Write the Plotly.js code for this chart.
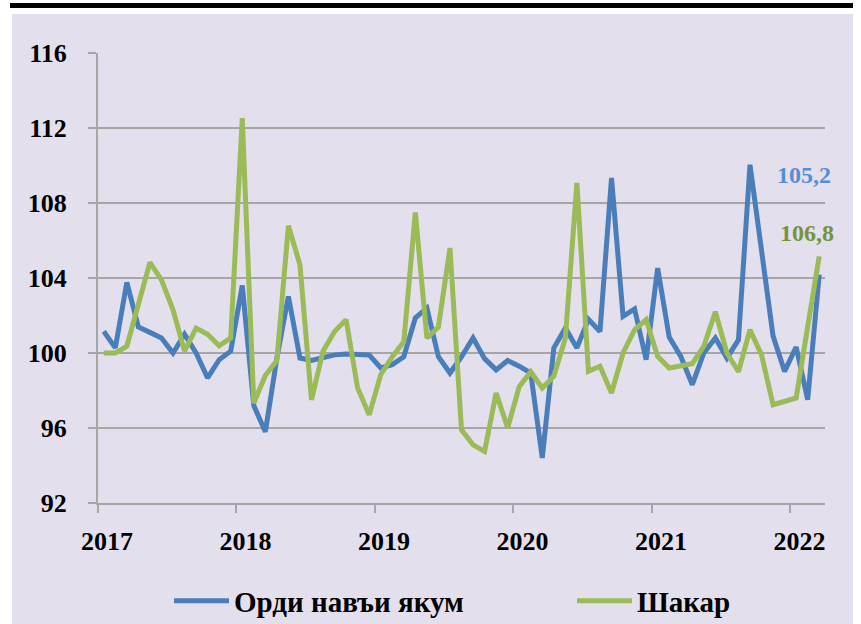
<!DOCTYPE html>
<html>
<head>
<meta charset="utf-8">
<script src="https://cdn.plot.ly/plotly-3.0.1.min.js"></script>
<style>html,body{margin:0;padding:0;background:#fff;}#chart{width:861px;height:624px;}</style>
</head>
<body>
<div id="chart"></div>
<script>
// Monthly, Jan 2017 – Mar 2022
var seriesNames = ["Орди навъи якум", "Шакар"];
var yearLabels = ["2017", "2018", "2019", "2020", "2021", "2022"];
var flour = [
  101.15, 100.27, 103.77, 101.39, 101.1, 100.8, 100.0, 101.0, 100.0, 98.67, 99.64, 100.1,
  103.6, 97.2, 95.8, 99.73, 103.02, 99.73, 99.6, 99.73, 99.9, 99.95, 99.95, 99.9,
  99.2, 99.38, 99.8, 101.87, 102.4, 99.8, 98.93, 99.8, 100.8, 99.7, 99.1, 99.6,
  99.3, 98.93, 94.4, 100.27, 101.33, 100.27, 101.8, 101.15, 109.33, 101.95, 102.35, 99.64,
  104.53, 100.85, 99.82, 98.31, 100.0, 100.8, 99.73, 100.7, 110.04, 105.47, 100.9, 99.02,
  100.32, 97.51, 104.18
];
var sugar = [
  100.0, 100.0, 100.36, 102.67, 104.83, 103.9, 102.3, 100.1, 101.33, 101.0, 100.39, 100.8,
  112.53, 97.33, 98.8, 99.6, 106.79, 104.71, 97.5, 100.1, 101.15, 101.78, 98.13, 96.7,
  98.84, 99.8, 100.6, 107.5, 100.8, 101.39, 105.6, 95.9, 95.1, 94.75, 97.87, 96.0,
  98.2, 99.0, 98.13, 98.76, 100.8, 109.07, 99.02, 99.29, 97.87, 100.0, 101.24, 101.78,
  99.82, 99.2, 99.32, 99.43, 100.36, 102.2, 100.0, 99.0, 101.24, 99.9, 97.24, 97.42,
  97.6, 101.4, 105.15
];
var endLabels = ["105,2", "106,8"];

var xs = flour.map(function (v, i) { return i + 0.5; });
var yearTicks = yearLabels.map(function (y, k) { return k * 12; });

var serif = "Liberation Serif, Times New Roman, serif";
var blue = "#4A7EBB", green = "#9BBB59";

var traces = [
  {x: xs, y: flour, type: "scatter", mode: "lines", name: seriesNames[0],
   line: {color: blue, width: 5}, legend: "legend"},
  {x: xs, y: sugar, type: "scatter", mode: "lines", name: seriesNames[1],
   line: {color: green, width: 5}, legend: "legend2"}
];

function legendAt(px) {
  return {
    orientation: "h", xref: "container", yref: "container",
    x: px / 861, xanchor: "left", y: 1 - 601 / 624, yanchor: "middle",
    font: {family: serif, size: 29, color: "#000", weight: "bold"},
    bgcolor: "rgba(0,0,0,0)", itemwidth: 55
  };
}

var layout = {
  width: 861, height: 624,
  margin: {l: 98, r: 36, t: 53, b: 121, pad: 0, autoexpand: false},
  paper_bgcolor: "#ffffff",
  plot_bgcolor: "#ffffff",
  showlegend: true,
  legend: legendAt(169),
  legend2: legendAt(572),
  xaxis: {
    range: [0, 63], tickmode: "array", tickvals: yearTicks, ticktext: yearLabels,
    ticks: "outside", ticklen: 8, tickwidth: 2, tickcolor: "#A6A6A6",
    showline: true, linecolor: "#A6A6A6", linewidth: 2, showgrid: false, zeroline: false,
    tickfont: {family: serif, size: 26, color: "#000", weight: "bold"},
    ticklabelshift: 9, ticklabelstandoff: 6, fixedrange: true
  },
  yaxis: {
    range: [92, 116], tickmode: "linear", tick0: 92, dtick: 4,
    ticks: "outside", ticklen: 8, tickwidth: 2, tickcolor: "#A6A6A6",
    showline: true, linecolor: "#A6A6A6", linewidth: 2,
    showgrid: true, gridcolor: "#A6A6A6", gridwidth: 2, zeroline: false,
    tickfont: {family: serif, size: 26, color: "#000", weight: "bold"},
    ticklabelstandoff: 16, fixedrange: true
  },
  shapes: [
    {type: "rect", xref: "paper", yref: "paper", layer: "below",
     x0: (12 - 98) / 727, x1: (853 - 98) / 727, y0: (503 - 624) / 450, y1: (503 - 14) / 450,
     fillcolor: "#E4DFEC", line: {width: 0}},
    {type: "line", xref: "paper", yref: "paper",
     x0: (10 - 98) / 727, x1: (853 - 98) / 727, y0: (503 - 5.5) / 450, y1: (503 - 5.5) / 450,
     line: {color: "#000", width: 5}}
  ],
  annotations: [
    {x: 61.2, y: 109.5, xref: "x", yref: "y", text: endLabels[0], showarrow: false,
     font: {family: serif, size: 24, color: "#558ED5", weight: "bold"}},
    {x: 61.45, y: 106.4, xref: "x", yref: "y", text: endLabels[1], showarrow: false,
     font: {family: serif, size: 24, color: "#77933C", weight: "bold"}}
  ]
};

Plotly.newPlot("chart", traces, layout, {displayModeBar: false, staticPlot: true});
</script>
</body>
</html>
